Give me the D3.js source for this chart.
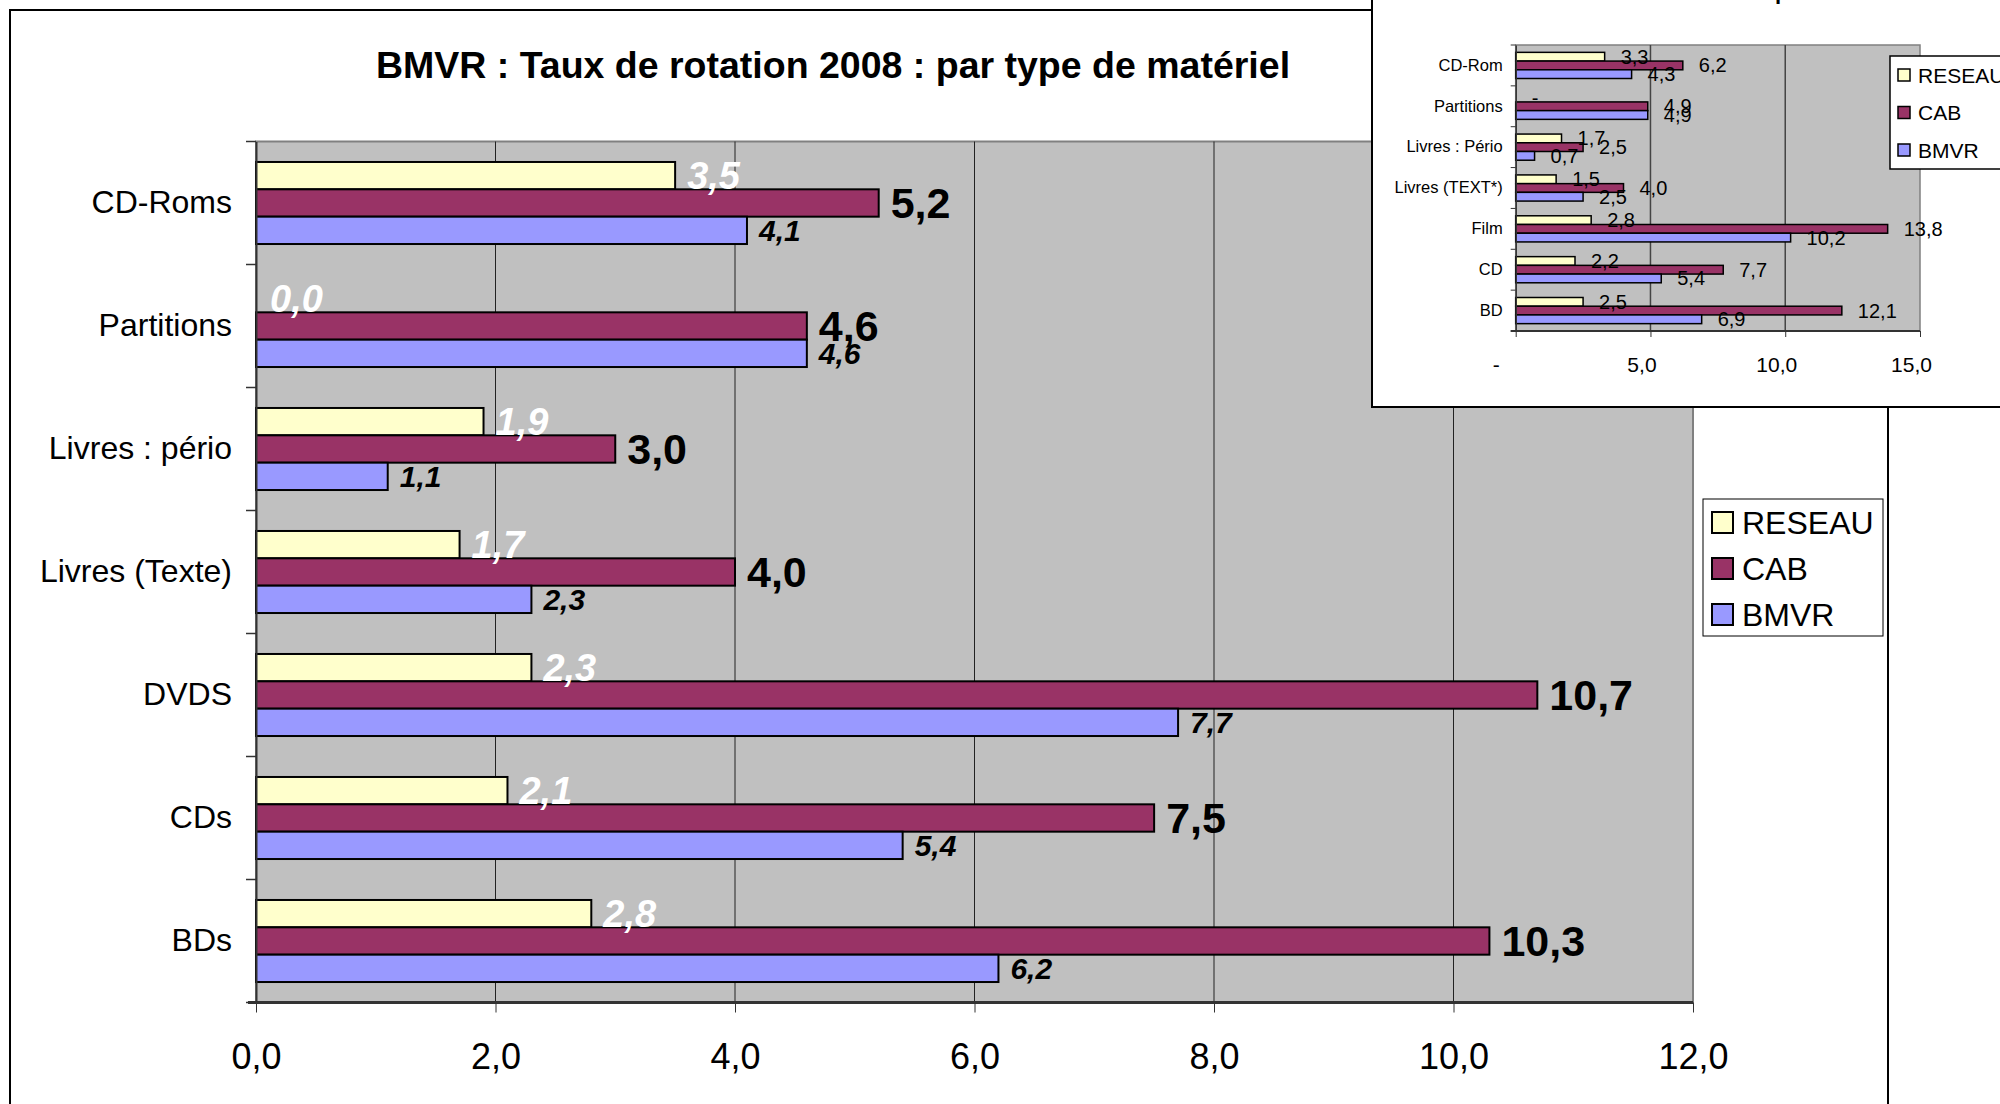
<!DOCTYPE html>
<html>
<head>
<meta charset="utf-8">
<script src="https://cdn.jsdelivr.net/npm/d3@7"></script>
<style>
  body { margin: 0; background: #fff; }
  svg { display: block; font-family: "Liberation Sans", Arial, sans-serif; }
</style>
</head>
<body>
<svg width="2000" height="1104"></svg>
<script>
// main chart data
var categories = ["CD-Roms", "Partitions", "Livres : pério", "Livres (Texte)", "DVDS", "CDs", "BDs"];
var reseau = [3.5, 0.0, 1.9, 1.7, 2.3, 2.1, 2.8];
var cab = [5.2, 4.6, 3.0, 4.0, 10.7, 7.5, 10.3];
var bmvr = [4.1, 4.6, 1.1, 2.3, 7.7, 5.4, 6.2];
var xTicks = [0, 2, 4, 6, 8, 10, 12];

// small chart pasted on top (other year)
var insetCategories = ["CD-Rom", "Partitions", "Livres : Pério", "Livres (TEXT*)", "Film", "CD", "BD"];
var insetReseau = [3.3, 0.0, 1.7, 1.5, 2.8, 2.2, 2.5];
var insetCab = [6.2, 4.9, 2.5, 4.0, 13.8, 7.7, 12.1];
var insetBmvr = [4.3, 4.9, 0.7, 2.5, 10.2, 5.4, 6.9];
var insetTicks = [0, 5, 10, 15];

var seriesNames = ["RESEAU", "CAB", "BMVR"];
var colors = {RESEAU: "#FFFFCC", CAB: "#993366", BMVR: "#9999FF"};

var svg = d3.select("svg");
var fmt = function(v) { return d3.format(".1f")(v).replace(".", ","); };

// ---------- main chart ----------
svg.append("rect")
  .attr("x", 10).attr("y", 10).attr("width", 1878).attr("height", 1120)
  .attr("fill", "#fff").attr("stroke", "#000").attr("stroke-width", 2);

svg.append("text")
  .attr("x", 833).attr("y", 78)
  .attr("text-anchor", "middle")
  .style("font-size", "37.5px").style("font-weight", "bold")
  .text("BMVR : Taux de rotation 2008 : par type de matériel");

var x = d3.scaleLinear().domain([0, 12]).range([256, 1693]);
var y = d3.scaleBand().domain(categories).range([141.5, 1002.5])
  .paddingInner(0.333).paddingOuter(0.1665);
var ys = d3.scaleBand().domain(seriesNames).range([0, y.bandwidth()]);

var g = svg.append("g");
g.append("rect")
  .attr("x", x(0)).attr("y", 141.5)
  .attr("width", x(12) - x(0)).attr("height", 1002.5 - 141.5)
  .attr("fill", "#C0C0C0").attr("stroke", "#808080").attr("stroke-width", 2);

g.selectAll(".grid").data(xTicks.slice(1, -1)).enter().append("line")
  .attr("x1", function(d) { return x(d); }).attr("x2", function(d) { return x(d); })
  .attr("y1", 141.5).attr("y2", 1002.5)
  .attr("stroke", "#222").attr("stroke-width", 1);

var mainSeries = [
  {key: "RESEAU", values: reseau},
  {key: "CAB", values: cab},
  {key: "BMVR", values: bmvr}
];

var labelStyle = {
  RESEAU: {fill: "#fff", size: "38px", italic: true},
  CAB: {fill: "#000", size: "43px", italic: false},
  BMVR: {fill: "#000", size: "30px", italic: true}
};

mainSeries.forEach(function(s) {
  var sg = g.append("g").attr("class", "series");
  sg.selectAll("rect").data(s.values).enter().append("rect")
    .attr("x", x(0))
    .attr("y", function(d, i) { return y(categories[i]) + ys(s.key); })
    .attr("width", function(d) { return x(d) - x(0); })
    .attr("height", ys.bandwidth())
    .attr("fill", colors[s.key]).attr("stroke", "#000").attr("stroke-width", 2);
});

mainSeries.forEach(function(s) {
  var st = labelStyle[s.key];
  g.selectAll(".lbl-" + s.key).data(s.values).enter().append("text")
    .attr("x", function(d) { return x(d) + (d === 0 ? 14 : 12); })
    .attr("y", function(d, i) { return y(categories[i]) + ys(s.key) + ys.bandwidth() / 2; })
    .attr("dy", "0.35em")
    .attr("fill", st.fill)
    .style("font-size", st.size).style("font-weight", "bold")
    .style("font-style", st.italic ? "italic" : "normal")
    .text(fmt);
});

// axes
var xAxis = g.append("g")
  .attr("transform", "translate(0,1002.5)")
  .call(d3.axisBottom(x).tickValues(xTicks).tickFormat(fmt).tickSize(10).tickPadding(31));
xAxis.select(".domain").attr("stroke", "#333").attr("stroke-width", 3).attr("d", "M" + (x(0) - 8) + ",0H" + x(12));
xAxis.selectAll(".tick line").attr("stroke", "#333").attr("stroke-width", 1);
xAxis.selectAll("text").style("font-size", "36px").attr("fill", "#000");

var yAxis = g.append("g")
  .attr("transform", "translate(" + x(0) + ",0)")
  .call(d3.axisLeft(y).tickSize(0).tickPadding(24));
yAxis.select(".domain").attr("stroke", "#333").attr("stroke-width", 2);
yAxis.selectAll("text").style("font-size", "32px").attr("fill", "#000");

var bounds = d3.range(categories.length + 1).map(function(i) { return y.range()[0] + i * y.step(); });
g.selectAll(".ctick").data(bounds).enter().append("line")
  .attr("x1", x(0) - 10).attr("x2", x(0))
  .attr("y1", function(d) { return d; }).attr("y2", function(d) { return d; })
  .attr("stroke", "#333").attr("stroke-width", 1.5);

// legend
var leg = svg.append("g");
leg.append("rect").attr("x", 1703).attr("y", 499).attr("width", 180).attr("height", 137)
  .attr("fill", "#fff").attr("stroke", "#000").attr("stroke-width", 1);
seriesNames.forEach(function(n, i) {
  var cy = 522.5 + i * 46;
  leg.append("rect").attr("x", 1712).attr("y", cy - 10.5).attr("width", 21).attr("height", 21)
    .attr("fill", colors[n]).attr("stroke", "#000").attr("stroke-width", 2);
  leg.append("text").attr("x", 1742).attr("y", cy).attr("dy", "0.36em")
    .style("font-size", "32px").text(n);
});

// ---------- inset chart ----------
var ins = svg.append("g");
ins.append("rect").attr("x", 1372).attr("y", -20).attr("width", 720).attr("height", 427)
  .attr("fill", "#fff").attr("stroke", "#000").attr("stroke-width", 2);

// title of the pasted chart, mostly above the picture
ins.append("text")
  .attr("x", 1531).attr("y", -1.5)
  .style("font-size", "22px").style("font-weight", "bold")
  .text("Taux de rotation 2007 : par matériel");

var ix = d3.scaleLinear().domain([0, 15]).range([1515.7, 1920]);
var iy = d3.scaleBand().domain(insetCategories).range([45, 331])
  .paddingInner(0.36).paddingOuter(0.18);
var iys = d3.scaleBand().domain(seriesNames).range([0, iy.bandwidth()]);

ins.append("rect").attr("x", ix(0)).attr("y", 45)
  .attr("width", ix(15) - ix(0)).attr("height", 331 - 45)
  .attr("fill", "#C0C0C0").attr("stroke", "#808080").attr("stroke-width", 1.5);

ins.selectAll(".igrid").data(insetTicks.slice(1, -1)).enter().append("line")
  .attr("x1", function(d) { return ix(d); }).attr("x2", function(d) { return ix(d); })
  .attr("y1", 45).attr("y2", 331)
  .attr("stroke", "#444").attr("stroke-width", 1.5);

var insetSeries = [
  {key: "RESEAU", values: insetReseau},
  {key: "CAB", values: insetCab},
  {key: "BMVR", values: insetBmvr}
];

insetSeries.forEach(function(s) {
  ins.append("g").selectAll("rect").data(s.values).enter().append("rect")
    .attr("x", ix(0))
    .attr("y", function(d, i) { return iy(insetCategories[i]) + iys(s.key); })
    .attr("width", function(d) { return ix(d) - ix(0); })
    .attr("height", iys.bandwidth())
    .attr("fill", colors[s.key]).attr("stroke", "#000").attr("stroke-width", 1.5);
});
insetSeries.forEach(function(s) {
  ins.append("g").selectAll("text").data(s.values).enter().append("text")
    .attr("x", function(d) { return ix(d) + 16; })
    .attr("y", function(d, i) { return iy(insetCategories[i]) + iys(s.key) + iys.bandwidth() / 2; })
    .attr("dy", "0.35em")
    .style("font-size", "20px")
    .text(function(d) { return d === 0 ? "-" : fmt(d); });
});

var ixAxis = ins.append("g").attr("transform", "translate(0,331)")
  .call(d3.axisBottom(ix).tickValues(insetTicks)
    .tickFormat(function(d) { return d === 0 ? "-" : fmt(d); })
    .tickSize(6).tickPadding(20));
ixAxis.select(".domain").attr("stroke", "#333").attr("stroke-width", 2).attr("d", "M" + (ix(0) - 5) + ",0H" + ix(15));
ixAxis.selectAll(".tick line").attr("stroke", "#333");
ixAxis.selectAll("text").style("font-size", "21px").attr("fill", "#000")
  .attr("dx", function(d) { return d === 0 ? -20 : -9; });

var iyAxis = ins.append("g").attr("transform", "translate(" + ix(0) + ",0)")
  .call(d3.axisLeft(iy).tickSize(0).tickPadding(13));
iyAxis.select(".domain").attr("stroke", "#333").attr("stroke-width", 1.5);
iyAxis.selectAll("text").style("font-size", "16.5px").attr("fill", "#000");

var ibounds = d3.range(insetCategories.length + 1).map(function(i) { return iy.range()[0] + i * iy.step(); });
ins.selectAll(".ictick").data(ibounds).enter().append("line")
  .attr("x1", ix(0) - 5).attr("x2", ix(0))
  .attr("y1", function(d) { return d; }).attr("y2", function(d) { return d; })
  .attr("stroke", "#333").attr("stroke-width", 1);

var ileg = ins.append("g");
ileg.append("rect").attr("x", 1890).attr("y", 56).attr("width", 150).attr("height", 113)
  .attr("fill", "#fff").attr("stroke", "#000").attr("stroke-width", 1.5);
seriesNames.forEach(function(n, i) {
  var cy = 75 + i * 37.5;
  ileg.append("rect").attr("x", 1898).attr("y", cy - 6).attr("width", 12).attr("height", 12)
    .attr("fill", colors[n]).attr("stroke", "#000").attr("stroke-width", 1.5);
  ileg.append("text").attr("x", 1918).attr("y", cy).attr("dy", "0.36em")
    .style("font-size", "21px").text(n);
});
</script>
</body>
</html>
